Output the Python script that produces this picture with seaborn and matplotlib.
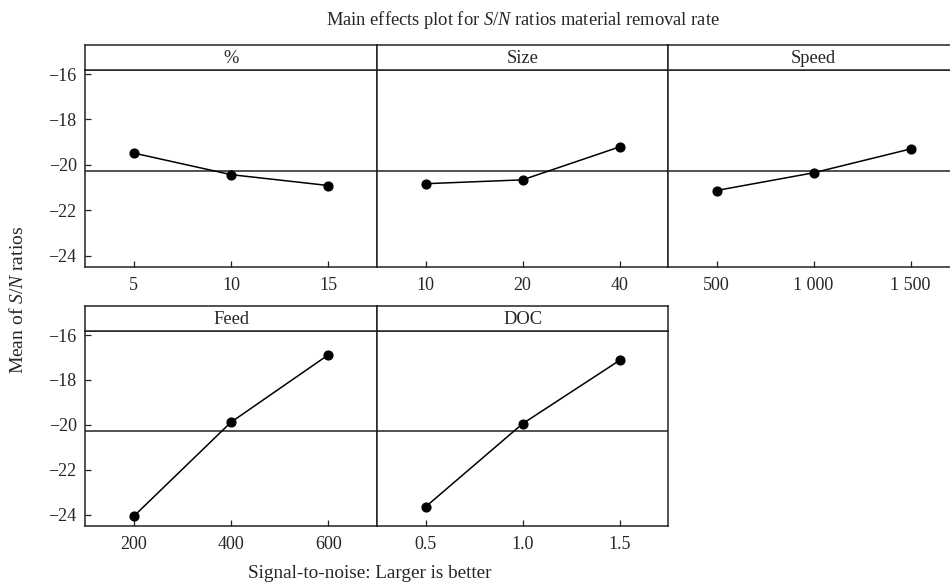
import numpy as np
import pandas as pd
import matplotlib
matplotlib.use("Agg")
import matplotlib.pyplot as plt
import seaborn as sns

# ---- data ----
factors = ["%", "Size", "Speed", "Feed", "DOC"]
pct_levels = ["5", "10", "15"]
pct_sn = [-19.48, -20.43, -20.91]
size_levels = ["10", "20", "40"]
size_sn = [-20.83, -20.66, -19.21]
speed_levels = ["500", "1 000", "1 500"]
speed_sn = [-21.13, -20.35, -19.30]
feed_levels = ["200", "400", "600"]
feed_sn = [-24.07, -19.88, -16.88]
doc_levels = ["0.5", "1.0", "1.5"]
doc_sn = [-23.65, -19.95, -17.13]
y_ticks = [-16, -18, -20, -22, -24]

levels = [pct_levels, size_levels, speed_levels, feed_levels, doc_levels]
values = [pct_sn, size_sn, speed_sn, feed_sn, doc_sn]
grand_mean = float(np.mean(np.concatenate([np.array(v) for v in values])))

sns.set_theme(style="white")
plt.rcParams["font.family"] = ["Liberation Serif", "DejaVu Serif"]
plt.rcParams["mathtext.fontset"] = "custom"
plt.rcParams["mathtext.rm"] = "Liberation Serif"
plt.rcParams["mathtext.it"] = "Liberation Serif:italic"

W, H = 950, 584
fig = plt.figure(figsize=(W / 100, H / 100), dpi=100)
fig.patch.set_facecolor("white")


def rect(x0, x1, ytop, ybot):
    return [x0 / W, 1 - ybot / H, (x1 - x0) / W, (ybot - ytop) / H]


cols = [(85, 377), (377, 668), (668, 959)]
rows = [(45, 70, 267), (306, 331, 526)]  # header top, header bottom/axes top, axes bottom
ylim = (-24.5, -15.82)
edge = "#222222"
fs = 13

for i, (fac, lv, vals) in enumerate(zip(factors, levels, values)):
    r, c = divmod(i, 3)
    x0, x1 = cols[c]
    htop, atop, abot = rows[r]
    ax = fig.add_axes(rect(x0, x1, atop, abot))
    df = pd.DataFrame({"level": lv, "sn": vals})
    sns.pointplot(data=df, x="level", y="sn", order=lv, color="black",
                  markers="o", markersize=6.5, linewidth=1.1, errorbar=None, ax=ax)
    ax.axhline(grand_mean, color=edge, lw=1.1, zorder=1)
    ax.set_xlim(-0.5, len(lv) - 0.5)
    ax.set_ylim(*ylim)
    ax.set_xlabel("")
    ax.set_ylabel("")
    ax.set_facecolor("white")
    for s in ax.spines.values():
        s.set_visible(True)
        s.set_color(edge)
        s.set_linewidth(1.1)
    ax.tick_params(axis="x", direction="in", length=4, width=0.9, color=edge,
                   labelsize=fs, pad=7, bottom=True)
    if c == 0:
        ax.set_yticks(y_ticks)
        ax.set_yticklabels([f"\u2212{abs(t)}" for t in y_ticks])
        ax.tick_params(axis="y", direction="in", length=4, width=0.9, color=edge,
                       labelsize=fs, pad=6, left=True)
    else:
        ax.set_yticks([])
    # header strip
    hx = fig.add_axes(rect(x0, x1, htop, atop))
    hx.set_xticks([])
    hx.set_yticks([])
    hx.set_facecolor("white")
    for s in hx.spines.values():
        s.set_visible(True)
        s.set_color(edge)
        s.set_linewidth(1.1)
    hx.text(0.5, 0.45, fac, ha="center", va="center", fontsize=13.3,
            transform=hx.transAxes)

fig.text(523 / W, 1 - 20 / H, r"Main effects plot for $\it{S/N}$ ratios material removal rate",
         ha="center", va="center", fontsize=13.3)
fig.text(370 / W, 1 - 573 / H, "Signal-to-noise: Larger is better",
         ha="center", va="center", fontsize=13.8)
fig.text(18 / W, 1 - 300 / H, r"Mean of $\it{S/N}$ ratios", rotation=90,
         ha="center", va="center", fontsize=14)

fig.savefig("out.png", dpi=100, facecolor="white")
